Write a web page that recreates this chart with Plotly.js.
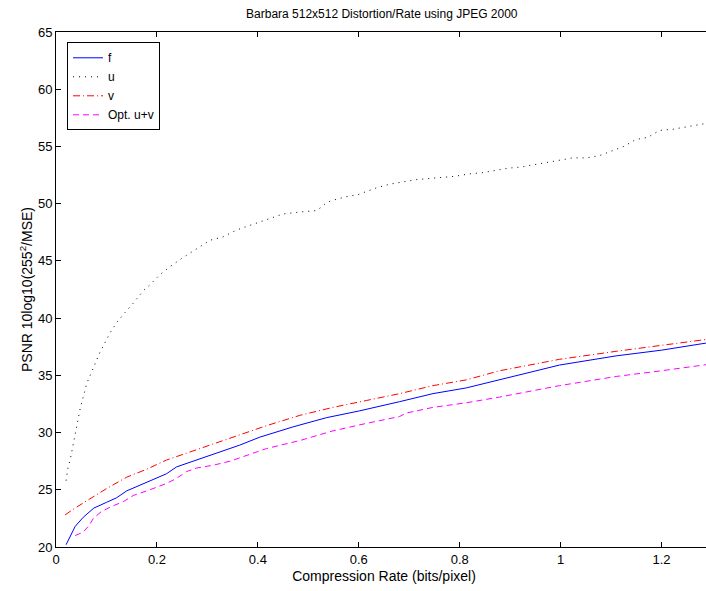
<!DOCTYPE html>
<html>
<head>
<meta charset="utf-8">
<script src="https://cdn.plot.ly/plotly-3.0.1.min.js"></script>
<style>
html,body{margin:0;padding:0;overflow:hidden;background:#fff;}
#chart{width:730px;height:591px;}
</style>
</head>
<body>
<div id="chart"></div>
<script>
// Series names
var seriesNames = ["f", "u", "v", "Opt. u+v"];

// f (solid blue)
var fX = [0.020,0.038,0.054,0.075,0.100,0.120,0.140,0.166,0.193,0.219,0.239,0.265,0.298,0.331,0.364,0.404,0.470,0.536,0.602,0.681,0.747,0.813,0.879,0.998,1.110,1.200,1.300];
var fY = [20.2,21.8,22.6,23.4,23.9,24.3,24.9,25.4,25.9,26.4,27.0,27.4,27.9,28.4,28.9,29.6,30.5,31.3,31.9,32.7,33.4,33.9,34.6,35.9,36.7,37.2,37.9];

// u (dotted black)
var uX = [0.020,0.024,0.028,0.034,0.041,0.048,0.061,0.071,0.087,0.107,0.120,0.137,0.153,0.173,0.186,0.206,0.226,0.252,0.279,0.305,0.331,0.358,0.384,0.417,0.450,0.490,0.516,0.526,0.536,0.549,0.574,0.599,0.612,0.636,0.661,0.688,0.714,0.741,0.766,0.792,0.818,0.844,0.870,0.896,0.921,0.947,0.973,0.999,1.024,1.051,1.077,1.101,1.125,1.149,1.173,1.196,1.222,1.248,1.274,1.300];
var uY = [25.8,27.0,27.6,29.0,30.8,32.1,34.3,35.3,37.0,38.7,39.6,40.5,41.3,42.4,42.9,43.8,44.5,45.3,46.1,46.8,47.1,47.7,48.1,48.6,49.1,49.3,49.4,49.7,50.1,50.3,50.6,50.8,51.0,51.4,51.7,51.9,52.1,52.2,52.3,52.4,52.6,52.7,52.9,53.1,53.2,53.4,53.6,53.8,54.0,54.0,54.2,54.6,55.0,55.6,55.8,56.4,56.5,56.7,56.9,57.1];

// v (dash-dot red)
var vX = [0.018,0.034,0.067,0.100,0.140,0.180,0.219,0.259,0.298,0.338,0.364,0.417,0.483,0.549,0.615,0.681,0.747,0.813,0.879,0.998,1.110,1.200,1.300];
var vY = [22.8,23.3,24.2,25.1,26.1,26.8,27.6,28.2,28.75,29.4,29.8,30.6,31.5,32.2,32.8,33.4,34.1,34.6,35.4,36.4,37.1,37.6,38.2];

// Opt. u+v (dashed magenta)
var oX = [0.038,0.054,0.066,0.074,0.090,0.113,0.133,0.153,0.186,0.219,0.239,0.259,0.279,0.312,0.345,0.384,0.417,0.483,0.549,0.615,0.681,0.694,0.747,0.813,0.879,0.998,1.110,1.200,1.300];
var oY = [21.0,21.3,21.9,22.5,23.1,23.6,23.95,24.5,25.0,25.55,26.0,26.6,26.9,27.15,27.5,28.1,28.6,29.3,30.15,30.8,31.4,31.7,32.2,32.6,33.1,34.1,34.9,35.4,36.0];

// Tick labels
var xTickVals = [0, 0.2, 0.4, 0.6, 0.8, 1, 1.2];
var xTickText = ["0", "0.2", "0.4", "0.6", "0.8", "1", "1.2"];
var yTickVals = [20, 25, 30, 35, 40, 45, 50, 55, 60, 65];

var traces = [
  {x: fX, y: fY, name: seriesNames[0], mode: "lines", line: {color: "#0000ff", width: 1, dash: "solid"}},
  {x: uX, y: uY, name: seriesNames[1], mode: "lines", line: {color: "#000000", width: 1, dash: "1px,5px"}},
  {x: vX, y: vY, name: seriesNames[2], mode: "lines", line: {color: "#ff0000", width: 1, dash: "7px,3px,1px,3px"}},
  {x: oX, y: oY, name: seriesNames[3], mode: "lines", line: {color: "#ff00ff", width: 1, dash: "6px,4px"}}
];

var FONT = "Liberation Sans, Arial, sans-serif";

var axisCommon = {
  showline: true, linecolor: "#000", linewidth: 1, mirror: "ticks",
  ticks: "inside", ticklen: 5, tickcolor: "#000", tickwidth: 1,
  showgrid: false, zeroline: false,
  tickfont: {family: FONT, size: 13, color: "#000"}
};

var layout = {
  width: 730, height: 591,
  margin: {l: 56, r: 17.5, t: 32, b: 44},
  paper_bgcolor: "#fff", plot_bgcolor: "#fff",
  font: {family: FONT, size: 12, color: "#000"},
  title: {text: "Barbara 512x512 Distortion/Rate using JPEG 2000", xref: "container", x: 0.523, xanchor: "center", yref: "container", y: 0.977, yanchor: "middle", font: {family: FONT, size: 12, color: "#000"}},
  xaxis: Object.assign({}, axisCommon, {
    range: [0, 1.3], tickvals: xTickVals, ticktext: xTickText,
    title: {text: "Compression Rate (bits/pixel)", font: {family: FONT, size: 14, color: "#000"}, standoff: 5}
  }),
  yaxis: Object.assign({}, axisCommon, {
    range: [20, 65], tickvals: yTickVals,
    title: {text: "PSNR 10log10(255<sup>2</sup>/MSE)", font: {family: FONT, size: 14, color: "#000"}, standoff: 2}
  }),
  showlegend: true,
  legend: {x: 0.0168, y: 0.98, xanchor: "left", yanchor: "top", bgcolor: "#fff", bordercolor: "#000", borderwidth: 1, font: {family: FONT, size: 12, color: "#000"}, tracegroupgap: 0}
};

Plotly.newPlot("chart", traces, layout, {displayModeBar: false, staticPlot: true});
</script>
</body>
</html>
